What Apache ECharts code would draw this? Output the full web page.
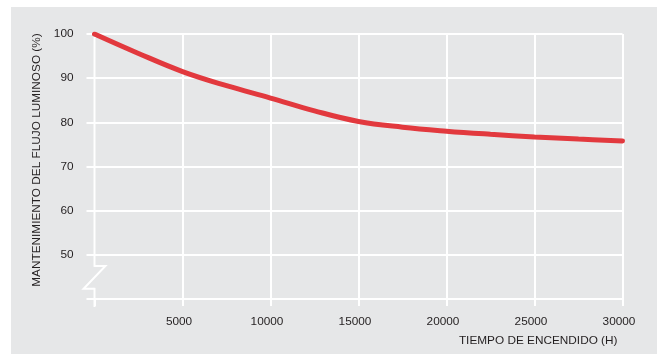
<!DOCTYPE html>
<html>
<head>
<meta charset="utf-8">
<script src="https://cdn.jsdelivr.net/npm/echarts@6/dist/echarts.min.js"></script>
<style>
html,body{margin:0;padding:0;background:#ffffff;}
#wrap{position:absolute;left:11px;top:7px;right:0;bottom:0;background:#e6e7e8;}
#chart{position:absolute;left:0;top:0;width:657px;height:354px;}
</style>
</head>
<body>
<div id="wrap"></div>
<div id="chart"></div>
<script>
// Data
const hours = [0, 2500, 5000, 7500, 10000, 12500, 15000, 17500, 20000, 22500, 25000, 27500, 30000];
const maintenance = [100, 95.6, 91.5, 88.3, 85.5, 82.6, 80.2, 78.9, 78.0, 77.3, 76.7, 76.2, 75.8];
const xTicks = [0, 5000, 10000, 15000, 20000, 25000, 30000];
const yTicks = [40, 50, 60, 70, 80, 90, 100];
const xName = 'TIEMPO DE ENCENDIDO (H)';
const yName = 'MANTENIMIENTO DEL FLUJO LUMINOSO (%)';
// axis-break glyph on the vertical axis (data space)
const breakGlyph = [[0, 100], [0, 47.5], [620, 47.5], [-620, 42.3], [0, 42.3], [0, 40]];

const FONT = '"Liberation Sans", Arial, sans-serif';
const FS = 11.8;
const TXT = '#231f20';
const WHITE = '#ffffff';

const chart = echarts.init(document.getElementById('chart'), null, {renderer: 'canvas'});
chart.setOption({
  backgroundColor: 'transparent',
  animation: false,
  grid: {left: 94.5, right: 34.5, top: 34, bottom: 55, containLabel: false},
  xAxis: {
    type: 'value',
    min: xTicks[0], max: xTicks[xTicks.length - 1], interval: xTicks[1] - xTicks[0],
    name: xName,
    nameLocation: 'end',
    nameGap: -5,
    nameTextStyle: {color: TXT, fontFamily: FONT, fontSize: FS, align: 'right', verticalAlign: 'top', padding: [36, 0, 0, 0]},
    axisLine: {show: false},
    axisTick: {show: true, length: 7, lineStyle: {color: WHITE, width: 2}},
    axisLabel: {color: TXT, fontFamily: FONT, fontSize: FS, margin: 17, padding: [0, 7, 0, 0],
      formatter: v => (v === xTicks[0] ? '' : String(v))},
    splitLine: {show: true, showMinLine: false, lineStyle: {color: WHITE, width: 2}}
  },
  yAxis: {
    type: 'value',
    min: yTicks[0], max: yTicks[yTicks.length - 1], interval: yTicks[1] - yTicks[0],
    name: yName,
    nameLocation: 'middle',
    nameGap: 41,
    nameTextStyle: {color: TXT, fontFamily: FONT, fontSize: FS, padding: [0, 0, 0, 13]},
    axisLine: {show: false},
    axisTick: {show: true, length: 8, lineStyle: {color: WHITE, width: 2}},
    axisLabel: {color: TXT, fontFamily: FONT, fontSize: FS, margin: 21,
      formatter: v => (v === yTicks[0] ? '' : String(v))},
    splitLine: {show: true, lineStyle: {color: WHITE, width: 2}}
  },
  series: [
    {
      type: 'line',
      data: hours.map((h, i) => [h, maintenance[i]]),
      smooth: 0.4,
      symbol: 'none',
      lineStyle: {color: '#e2393e', width: 5, cap: 'round'}
    }
  ]
});

(function () {
  const pts = breakGlyph.map(p => chart.convertToPixel({gridIndex: 0}, p));
  const pTop = pts[0], pB1 = pts[1], pB4 = pts[4], pBot = pts[5];
  chart.setOption({
    graphic: [
      {type: 'rect', shape: {x: pTop[0] - 1, y: pTop[1] + 3, width: 2, height: pB1[1] - pTop[1] - 2}, style: {fill: WHITE}, z: 100, silent: true},
      {type: 'rect', shape: {x: pB4[0] - 1, y: pB4[1] - 1, width: 2, height: pBot[1] - pB4[1] + 9}, style: {fill: WHITE}, z: 100, silent: true},
      {type: 'polyline', shape: {points: pts.slice(1, 5)}, style: {stroke: WHITE, lineWidth: 2, fill: null}, z: 100, silent: true}
    ]
  });
})();
</script>
</body>
</html>
